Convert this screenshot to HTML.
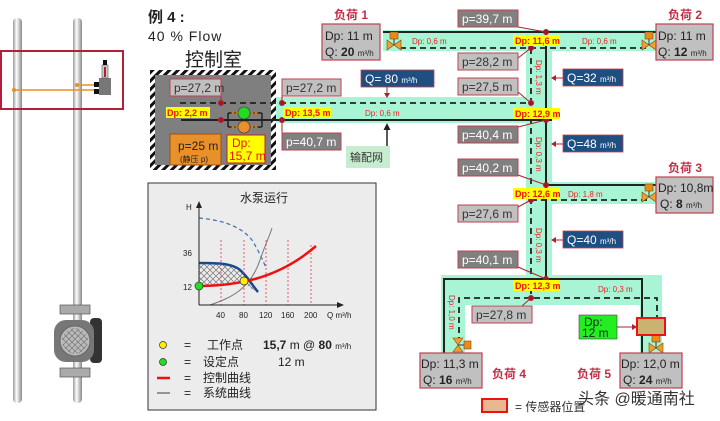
<!DOCTYPE html>
<html><head><meta charset="utf-8"><style>
html,body{margin:0;padding:0;background:#fff;width:720px;height:421px;overflow:hidden}
svg text{font-family:"Liberation Sans","Noto Sans CJK SC",sans-serif}
</style></head><body>
<svg width="720" height="421" viewBox="0 0 720 421" xmlns="http://www.w3.org/2000/svg">
<defs>
<pattern id="hatch" width="6" height="6" patternUnits="userSpaceOnUse" patternTransform="rotate(45)">
<rect width="6" height="6" fill="#fff"/><rect width="3" height="6" fill="#111"/></pattern>
<pattern id="xh" width="6" height="6" patternUnits="userSpaceOnUse">
<path d="M0 0L6 6M6 0L0 6" stroke="#777" stroke-width="0.7"/></pattern>
<linearGradient id="pipe" x1="0" x2="1"><stop offset="0" stop-color="#999"/><stop offset="0.4" stop-color="#fff"/><stop offset="1" stop-color="#888"/></linearGradient>
<g id="valve"><rect x="-4" y="-13" width="8" height="7" fill="#e98a1c" stroke="#7a4a10" stroke-width="0.6"/><line x1="0" y1="-6" x2="0" y2="0" stroke="#333"/><path d="M-7 -5L7 5L7 -5L-7 5Z" fill="#f0a030" stroke="#7a4a10" stroke-width="0.6"/></g>
</defs>

<!-- left pipes -->
<rect x="13" y="18" width="9" height="385" rx="4" fill="url(#pipe)"/>
<rect x="73" y="18" width="9" height="385" rx="4" fill="url(#pipe)"/>
<rect x="1" y="51" width="122" height="58" fill="none" stroke="#b0203a" stroke-width="2"/>
<line x1="14" y1="90" x2="96" y2="90" stroke="#e8901a" stroke-width="1.5"/>
<line x1="77" y1="85" x2="96" y2="85" stroke="#e8901a" stroke-width="1.5"/>
<circle cx="14" cy="90" r="2" fill="#e8901a"/><circle cx="77" cy="85" r="2" fill="#e8901a"/>
<rect x="94" y="82" width="5" height="5" fill="#111"/><rect x="94" y="89" width="5" height="5" fill="#111"/>
<rect x="99" y="78" width="12" height="17" fill="#777"/>
<rect x="102" y="65" width="6" height="13" fill="#ccc" stroke="#555" stroke-width="0.6"/><rect x="104" y="67" width="2" height="10" fill="#b02030"/>
<rect x="103" y="60" width="4" height="5" fill="#111"/>
<rect x="60" y="305" width="30" height="9" fill="#aaa" stroke="#555" stroke-width="0.7"/>
<rect x="60" y="368" width="30" height="9" fill="#aaa" stroke="#555" stroke-width="0.7"/>
<rect x="90" y="318" width="12" height="45" rx="4" fill="#333"/>
<rect x="54" y="320" width="40" height="42" rx="12" fill="#777"/>
<circle cx="75" cy="341" r="15" fill="#bbb" stroke="#666"/>
<circle cx="75" cy="341" r="13" fill="url(#xh)"/>

<!-- title -->
<text x="148" y="22" font-size="15" font-weight="bold" fill="#222">例 4 :</text>
<text x="148" y="41" font-size="14" fill="#222" letter-spacing="1">40 % Flow</text>
<text x="185" y="66" font-size="19" fill="#222">控制室</text>

<!-- bands -->
<g fill="#a8f5d6">
<rect x="276" y="97" width="276" height="26"/>
<rect x="383" y="30" width="273" height="21"/>
<rect x="526" y="30" width="26" height="260"/>
<rect x="546" y="182" width="110" height="22"/>
<rect x="441" y="275" width="221" height="30"/>
<rect x="441" y="275" width="24" height="80"/>
<rect x="640" y="275" width="22" height="80"/>
</g>

<!-- control room -->
<rect x="150" y="70" width="126" height="100" fill="url(#hatch)"/>
<rect x="155" y="75" width="116" height="90" fill="#7f7f7f"/>

<!-- pipes lines -->
<g stroke="#222" stroke-width="2" fill="none">
<line x1="181" y1="120" x2="552" y2="120"/>
<line x1="383" y1="32" x2="656" y2="32"/>
<line x1="546" y1="32" x2="546" y2="279"/>
<line x1="546" y1="185" x2="656" y2="185"/>
<path d="M444 353V279H642V353"/>
</g>
<g stroke="#222" stroke-width="1.8" fill="none" stroke-dasharray="6,4">
<line x1="180" y1="103" x2="531" y2="103"/>
<line x1="400" y1="48" x2="648" y2="48"/>
<line x1="531" y1="48" x2="531" y2="298"/>
<line x1="531" y1="200" x2="648" y2="200"/>
<path d="M459 343V298H657V343"/>
</g>
<!-- pump bypass -->
<path d="M221 120H228M228 113V127M228 113H262M228 127H262M262 113V127M262 120H276" stroke="#222" stroke-width="1.5" fill="none"/>
<g fill="#c87a20"><circle cx="233" cy="113" r="1.5"/><circle cx="237" cy="113" r="1.5"/><circle cx="252" cy="113" r="1.5"/><circle cx="256" cy="113" r="1.5"/><circle cx="233" cy="127" r="1.5"/><circle cx="237" cy="127" r="1.5"/><circle cx="252" cy="127" r="1.5"/><circle cx="256" cy="127" r="1.5"/></g>
<circle cx="244" cy="113" r="6" fill="#22dd22" stroke="#333" stroke-width="0.6"/>
<circle cx="244" cy="127" r="6" fill="#e8902a" stroke="#333" stroke-width="0.6"/>

<!-- red dots and leaders -->
<g stroke="#b02030" stroke-width="1" fill="#a01828">
<line x1="221" y1="96" x2="221" y2="103"/><circle cx="221" cy="103" r="2.5"/><circle cx="221" cy="120" r="2.5"/>
<line x1="282" y1="96" x2="282" y2="103"/><circle cx="282" cy="103" r="2.5"/><circle cx="282" cy="120" r="2.5"/><line x1="282" y1="120" x2="282" y2="133"/>
<line x1="518" y1="27" x2="546" y2="32"/><circle cx="546" cy="32" r="2.5"/>
<line x1="518" y1="58" x2="531" y2="48"/><circle cx="531" cy="48" r="2.5"/>
<line x1="518" y1="92" x2="531" y2="103"/><circle cx="531" cy="103" r="2.5"/>
<line x1="518" y1="127" x2="546" y2="120"/><circle cx="546" cy="120" r="2.5"/>
<line x1="518" y1="175" x2="546" y2="185"/><circle cx="546" cy="185" r="2.5"/>
<line x1="518" y1="207" x2="531" y2="200"/><circle cx="531" cy="200" r="2.5"/>
<line x1="518" y1="267" x2="546" y2="279"/><circle cx="546" cy="279" r="2.5"/>
<line x1="522" y1="306" x2="531" y2="298"/><circle cx="531" cy="298" r="2.5"/>
<line x1="563" y1="78" x2="552" y2="78"/><line x1="563" y1="144" x2="552" y2="144"/><line x1="563" y1="240" x2="552" y2="240"/>
<line x1="387" y1="87" x2="387" y2="96"/><line x1="617" y1="327" x2="636" y2="327"/>
</g>
<g fill="#b02030"><path d="M551 78l5-3v6z"/><path d="M551 144l5-3v6z"/><path d="M551 240l5-3v6z"/><path d="M387 98l-3-5h6z"/><path d="M637 327l-5-3v6z"/></g>
<line x1="387" y1="146" x2="387" y2="128" stroke="#222" stroke-width="1.5"/><path d="M387 123l-3.5 7h7z" fill="#222"/>

<!-- valves -->
<use href="#valve" x="394" y="45"/><use href="#valve" x="649" y="45"/><use href="#valve" x="649" y="197"/>
<g transform="translate(458,345) rotate(90)"><use href="#valve"/></g>
<use href="#valve" x="656" y="348"/>

<!-- gray p labels -->
<g font-size="12" stroke="#c04050" stroke-width="1">
<rect x="170" y="79" width="51" height="17" fill="#c0c0c0"/>
<rect x="282" y="79" width="59" height="17" fill="#c0c0c0"/>
<rect x="282" y="133" width="59" height="17" fill="#808080"/>
<rect x="458" y="10" width="60" height="17" fill="#808080"/>
<rect x="458" y="53" width="60" height="17" fill="#c0c0c0"/>
<rect x="458" y="78" width="60" height="17" fill="#c0c0c0"/>
<rect x="458" y="126" width="60" height="17" fill="#808080"/>
<rect x="458" y="159" width="60" height="17" fill="#808080"/>
<rect x="458" y="205" width="60" height="17" fill="#c0c0c0"/>
<rect x="458" y="251" width="60" height="17" fill="#808080"/>
<rect x="472" y="306" width="60" height="17" fill="#c0c0c0"/>
</g>
<g font-size="12" stroke="none">
<text x="174" y="92" fill="#333">p=27,2 m</text>
<text x="286" y="92" fill="#333">p=27,2 m</text>
<text x="286" y="146" fill="#fff">p=40,7 m</text>
<text x="462" y="23" fill="#fff">p=39,7 m</text>
<text x="462" y="66" fill="#333">p=28,2 m</text>
<text x="462" y="91" fill="#333">p=27,5 m</text>
<text x="462" y="139" fill="#fff">p=40,4 m</text>
<text x="462" y="172" fill="#fff">p=40,2 m</text>
<text x="462" y="218" fill="#333">p=27,6 m</text>
<text x="462" y="264" fill="#fff">p=40,1 m</text>
<text x="476" y="319" fill="#333">p=27,8 m</text>
</g>

<!-- Q boxes -->
<g fill="#1f4e80" stroke="#c04050" stroke-width="0.8">
<rect x="361" y="70" width="73" height="17"/><rect x="563" y="69" width="60" height="17"/><rect x="563" y="135" width="60" height="17"/><rect x="563" y="231" width="60" height="17"/>
</g>
<g fill="#fff" font-size="12">
<text x="365" y="83">Q=  80 <tspan font-size="8">m³/h</tspan></text>
<text x="567" y="82">Q=32 <tspan font-size="8">m³/h</tspan></text>
<text x="567" y="148">Q=48 <tspan font-size="8">m³/h</tspan></text>
<text x="567" y="244">Q=40 <tspan font-size="8">m³/h</tspan></text>
</g>

<!-- yellow Dp labels -->
<g fill="#ffff00"><rect x="166" y="107" width="44" height="11"/><rect x="283" y="107" width="48" height="11"/><rect x="513" y="35" width="47" height="11"/><rect x="513" y="108" width="47" height="11"/><rect x="513" y="188" width="47" height="11"/><rect x="513" y="280" width="47" height="11"/></g>
<g fill="#ee1111" font-size="9" font-weight="bold">
<text x="167" y="116">Dp: 2,2 m</text><text x="285" y="116">Dp: 13,5 m</text>
<text x="515" y="44">Dp: 11,6 m</text><text x="515" y="117">Dp: 12,9 m</text>
<text x="515" y="197">Dp: 12,6 m</text><text x="515" y="289">Dp: 12,3 m</text>
</g>
<g fill="#ee2222" font-size="8">
<text x="365" y="116">Dp: 0,6 m</text><text x="412" y="44">Dp: 0,6 m</text><text x="582" y="44">Dp: 0,6 m</text>
<text x="568" y="197">Dp: 1,8 m</text><text x="598" y="292">Dp: 0,3 m</text>
<text transform="translate(536,60) rotate(90)">Dp: 1,3 m</text>
<text transform="translate(536,137) rotate(90)">Dp: 0,3 m</text>
<text transform="translate(536,228) rotate(90)">Dp: 0,3 m</text>
<text transform="translate(449,295) rotate(90)">Dp: 1,0 m</text>
</g>

<!-- control room boxes -->
<rect x="170" y="134" width="51" height="31" fill="#e8902a" stroke="#a05010"/>
<text x="178" y="150" font-size="12" fill="#222">p=25 m</text>
<text x="180" y="162" font-size="8" fill="#222">(静压 p)</text>
<rect x="227" y="135" width="38" height="28" fill="#ffff00" stroke="#c02020"/>
<text x="232" y="147" font-size="12" fill="#ee1111">Dp:</text>
<text x="229" y="160" font-size="12" fill="#ee1111">15,7 m</text>
<rect x="346" y="146" width="44" height="22" fill="#c8ecd0"/>
<text x="350" y="161" font-size="11" fill="#333">输配网</text>

<!-- loads -->
<g font-size="12" fill="#c03048" font-weight="bold">
<text x="334" y="19">负荷 1</text><text x="668" y="19">负荷 2</text><text x="668" y="172">负荷 3</text>
<text x="492" y="378">负荷 4</text><text x="577" y="378">负荷 5</text>
</g>
<g fill="#c0c0c0" stroke="#c04050" stroke-width="1.2">
<rect x="322" y="24" width="58" height="36"/><rect x="656" y="24" width="57" height="36"/><rect x="656" y="177" width="57" height="36"/>
<rect x="420" y="353" width="62" height="35"/><rect x="620" y="353" width="62" height="35"/>
</g>
<g font-size="12" fill="#222">
<text x="325" y="40">Dp: 11 m</text><text x="325" y="56">Q: <tspan font-weight="bold">20</tspan> <tspan font-size="8">m³/h</tspan></text>
<text x="658" y="40">Dp: 11 m</text><text x="658" y="56">Q: <tspan font-weight="bold">12</tspan> <tspan font-size="8">m³/h</tspan></text>
<text x="658" y="192">Dp: 10,8m</text><text x="660" y="208">Q: <tspan font-weight="bold">8</tspan> <tspan font-size="8">m³/h</tspan></text>
<text x="421" y="368">Dp: 11,3 m</text><text x="423" y="384">Q: <tspan font-weight="bold">16</tspan> <tspan font-size="8">m³/h</tspan></text>
<text x="621" y="368">Dp: 12,0 m</text><text x="623" y="384">Q: <tspan font-weight="bold">24</tspan> <tspan font-size="8">m³/h</tspan></text>
</g>

<!-- sensor -->
<rect x="579" y="315" width="38" height="24" fill="#22ee22" stroke="#444" stroke-width="0.6"/>
<text x="584" y="326" font-size="12" fill="#222">Dp:</text><text x="582" y="337" font-size="12" fill="#222">12 m</text>
<rect x="637" y="318" width="28" height="17" fill="#c8b470" stroke="#ee1111" stroke-width="2"/>
<rect x="482" y="399" width="25" height="13" fill="#e8b890" stroke="#ee1111" stroke-width="2"/>
<text x="515" y="411" font-size="12" fill="#333">= 传感器位置</text>
<text x="578" y="404" font-size="16" fill="#333">头条 @暖通南社</text>

<!-- chart panel -->
<rect x="148" y="183" width="228" height="227" fill="#ececec" stroke="#333" stroke-width="1"/>
<text x="240" y="202" font-size="12" fill="#222">水泵运行</text>
<text x="186" y="210" font-size="8" fill="#222">H</text>
<path d="M199 305V263C215 263 232 263 240 270C248 277 252 285 258 292L250 288L244 283L199 287Z" fill="url(#xh)"/>
<path d="M199 263C215 263 232 263 240 270C248 277 252 285 258 292" stroke="#1a4a8a" stroke-width="2.5" fill="none"/>
<path d="M199 218C220 220 240 225 252 240C258 250 263 260 266 268" stroke="#3a70b0" stroke-width="1.2" stroke-dasharray="4,3" fill="none"/>
<path d="M210 305C230 298 250 290 260 260C265 245 270 235 272 228" stroke="#777" stroke-width="1" fill="none"/>
<g stroke="#d04050" stroke-width="0.8" stroke-dasharray="2,2"><line x1="221" y1="240" x2="221" y2="305"/><line x1="244" y1="240" x2="244" y2="305"/><line x1="266" y1="240" x2="266" y2="305"/><line x1="288" y1="240" x2="288" y2="305"/><line x1="311" y1="245" x2="311" y2="305"/></g>
<path d="M199 286C220 286 240 283 255 279C280 272 300 260 316 246" stroke="#ee1111" stroke-width="2.5" fill="none"/>
<line x1="199" y1="305" x2="199" y2="205" stroke="#222"/><path d="M199 201l-3 7h6z" fill="#222"/>
<line x1="199" y1="305" x2="340" y2="305" stroke="#222"/><path d="M344 305l-7-3v6z" fill="#222"/>
<circle cx="199" cy="286" r="4" fill="#22dd22" stroke="#333" stroke-width="0.7"/>
<circle cx="244" cy="281" r="4" fill="#ffee00" stroke="#333" stroke-width="0.7"/>
<g font-size="8" fill="#222"><text x="183" y="256">36</text><text x="183" y="290">12</text>
<text x="216" y="318">40</text><text x="239" y="318">80</text><text x="259" y="318">120</text><text x="281" y="318">160</text><text x="304" y="318">200</text><text x="327" y="318">Q m³/h</text></g>
<circle cx="163" cy="345" r="3.5" fill="#ffee00" stroke="#333" stroke-width="0.7"/>
<circle cx="163" cy="362" r="3.5" fill="#22dd22" stroke="#333" stroke-width="0.7"/>
<line x1="157" y1="378" x2="170" y2="378" stroke="#ee1111" stroke-width="2.5"/>
<line x1="157" y1="393" x2="170" y2="393" stroke="#777" stroke-width="1.5"/>
<g font-size="12" fill="#222">
<text x="184" y="349">=</text><text x="207" y="349">工作点</text><text x="263" y="349"><tspan font-weight="bold">15,7</tspan> m @ <tspan font-weight="bold">80</tspan> <tspan font-size="8">m³/h</tspan></text>
<text x="184" y="366">=</text><text x="203" y="366">设定点</text><text x="278" y="366">12 m</text>
<text x="184" y="382">=</text><text x="203" y="382">控制曲线</text>
<text x="184" y="397">=</text><text x="203" y="397">系统曲线</text>
</g>
</svg>
</body></html>
